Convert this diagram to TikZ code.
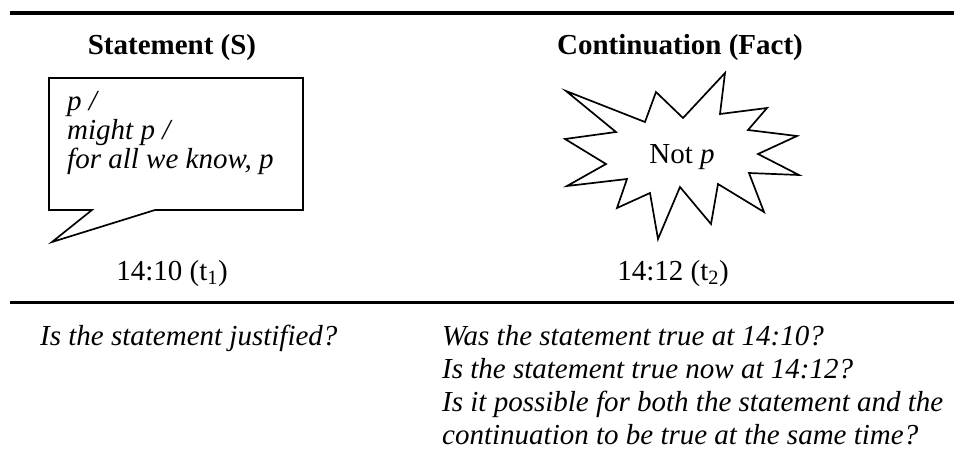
\documentclass[tikz,border=0pt]{standalone}
\usepackage{fontspec}
\setmainfont{Liberation Serif}
\begin{document}
\begin{tikzpicture}[x=1pt,y=-1pt,
  txt/.style={inner sep=0pt, font=\fontsize{29}{33}\selectfont},
  head/.style={inner sep=0pt, font=\fontsize{29}{33}\selectfont\bfseries},
  itx/.style={inner sep=0pt, font=\fontsize{29}{33}\selectfont\itshape, anchor=base west},
  shape line/.style={line width=1.7pt, line join=miter, miter limit=20}]
\useasboundingbox (0,0) rectangle (954,464);
% rules
\draw[line width=3.5pt] (10,13) -- (954,13);
\draw[line width=3pt] (10,302) -- (954,302);
% headings
\node[head, anchor=base] (hS) at (172,54) {Statement (S)};
\node[head, anchor=base] (hF) at (680,54) {Continuation (Fact)};
% speech bubble
\draw[shape line] (49,78) -- (303,78) -- (303,210) -- (155,210) -- (52,242) -- (92,210) -- (49,210) -- cycle;
\node[itx] (s1) at (67,110) {p /};
\node[itx] (s2) at (67,139) {might p /};
\node[itx] (s3) at (67,168) {for all we know, p};
% starburst
\draw[shape line] (566,91) -- (645,122) -- (656,92) -- (683,118) -- (725,73) -- (720,114)
  -- (767,108) -- (748,130) -- (797,136) -- (758,154) -- (799,175) -- (749,173)
  -- (764,212) -- (718,184) -- (711,224) -- (680,187) -- (658,239) -- (650,193)
  -- (617,208) -- (627,179) -- (567,186) -- (606,164) -- (565,139) -- (616,132) -- cycle;
\node[txt, anchor=base] (np) at (682,163) {Not \textit{p}};
% times
\node[txt, anchor=base] (t1) at (172,280) {14:10 (t\textsubscript{1})};
\node[txt, anchor=base] (t2) at (673,280) {14:12 (t\textsubscript{2})};
% questions
\node[itx] (q0) at (40,345) {Is the statement justified?};
\node[itx] (q1) at (442,345) {Was the statement true at 14:10?};
\node[itx] (q2) at (442,378) {Is the statement true now at 14:12?};
\node[itx] (q3) at (442,411) {Is it possible for both the statement and the};
\node[itx] (q4) at (442,444) {continuation to be true at the same time?};
\end{tikzpicture}
\end{document}
